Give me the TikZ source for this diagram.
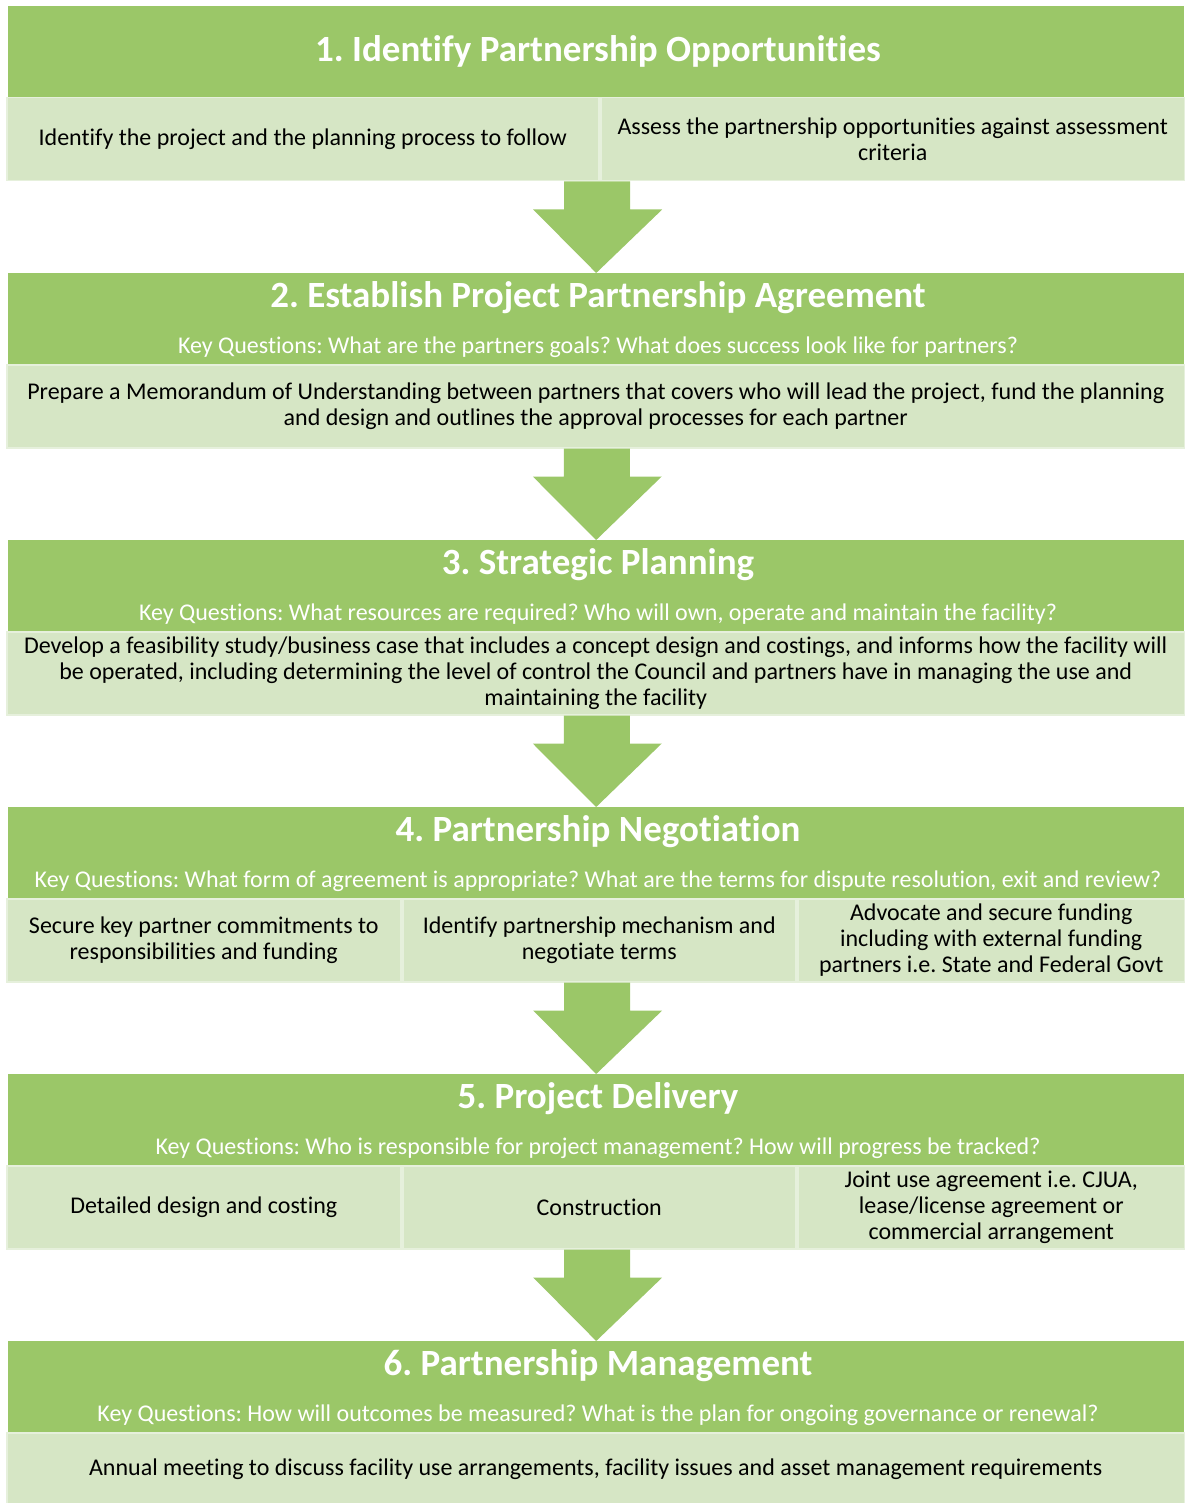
\documentclass[tikz,border=0pt]{standalone}
\usepackage{fontspec}
\setmainfont{Carlito}[Ligatures=NoCommon]
\usetikzlibrary{calc}
\frenchspacing

\definecolor{stepgreen}{HTML}{9BC768}
\definecolor{celllight}{HTML}{D6E6C5}
\definecolor{celledge}{HTML}{E6F0DC}

% block arrow from the bottom of one stage to the top of the next
\newcommand{\stepdown}[2]{%
  \fill[stepgreen] ($(#1)+(-32,0)$) -- ($(#1)+(34,0)$) -- ($(#1)+(34,28)$)
    -- ($(#1)+(66,28)$) -- (#2) -- ($(#1)+(-63,28)$) -- ($(#1)+(-32,28)$) -- cycle;}

\begin{document}
\begin{tikzpicture}[x=1pt,y=-1pt,
    header/.style={fill=stepgreen, minimum width=1176pt, minimum height=91pt,
      anchor=north west, inner sep=0pt},
    title/.style={text=white, font=\fontsize{37}{42}\selectfont\bfseries},
    keyq/.style={text=white, font=\fontsize{24}{26}\selectfont},
    cell/.style={fill=celllight, draw=celledge, line width=1.5pt, anchor=north west,
      align=center, inner sep=0pt, minimum height=83pt, font=\fontsize{24}{26}\selectfont}]
    \useasboundingbox (0,0) rectangle (1184,1503);

    % stage 1
    \node[header] (h1) at (8,6) {};
    \node[title] (t1) at (598,51) {1. Identify Partnership Opportunities};
    \node[cell, minimum width=592pt] (c1a) at (6,97) {Identify the project and the planning process to follow};
    \node[cell, minimum width=584pt] (c1b) at (600,97) {Assess the partnership opportunities against assessment\\criteria};

    % stage 2
    \node[header] (h2) at (8,273) {};
    \node[title] (t2) at (598,298) {2. Establish Project Partnership Agreement};
    \node[keyq] (q2) at (598,347) {Key Questions: What are the partners goals? What does success look like for partners?};
    \node[cell, minimum width=1178pt] (c2) at (6,364) {Prepare a Memorandum of Understanding between partners that covers who will lead the project, fund the planning\\and design and outlines the approval processes for each partner};

    % stage 3
    \node[header] (h3) at (8,540) {};
    \node[title] (t3) at (598,565) {3. Strategic Planning};
    \node[keyq] (q3) at (598,614) {Key Questions: What resources are required? Who will own, operate and maintain the facility?};
    \node[cell, minimum width=1178pt] (c3) at (6,631) {Develop a feasibility study/business case that includes a concept design and costings, and informs how the facility will\\be operated, including determining the level of control the Council and partners have in managing the use and\\maintaining the facility};

    % stage 4
    \node[header] (h4) at (8,807) {};
    \node[title] (t4) at (598,832) {4. Partnership Negotiation};
    \node[keyq] (q4) at (598,881) {Key Questions: What form of agreement is appropriate? What are the terms for dispute resolution, exit and review?};
    \node[cell, minimum width=394pt] (c4a) at (6,898) {Secure key partner commitments to\\responsibilities and funding};
    \node[cell, minimum width=393pt] (c4b) at (402,898) {Identify partnership mechanism and\\negotiate terms};
    \node[cell, minimum width=387pt] (c4c) at (797,898) {Advocate and secure funding\\including with external funding\\partners i.e. State and Federal Govt};

    % stage 5
    \node[header] (h5) at (8,1074) {};
    \node[title] (t5) at (598,1099) {5. Project Delivery};
    \node[keyq] (q5) at (598,1148) {Key Questions: Who is responsible for project management? How will progress be tracked?};
    \node[cell, minimum width=394pt] (c5a) at (6,1165) {Detailed design and costing};
    \node[cell, minimum width=393pt] (c5b) at (402,1165) {Construction};
    \node[cell, minimum width=387pt] (c5c) at (797,1165) {Joint use agreement i.e. CJUA,\\lease/license agreement or\\commercial arrangement};

    % stage 6
    \node[header] (h6) at (8,1341) {};
    \node[title] (t6) at (598,1366) {6. Partnership Management};
    \node[keyq] (q6) at (598,1415) {Key Questions: How will outcomes be measured? What is the plan for ongoing governance or renewal?};
    \node[cell, minimum width=1178pt, minimum height=72pt] (c6) at (6,1432) {Annual meeting to discuss facility use arrangements, facility issues and asset management requirements};

    % arrows between stages
    \coordinate (a1) at (h1.south |- c1a.south);
    \coordinate (a4) at (h4.south |- c4b.south);
    \coordinate (a5) at (h5.south |- c5b.south);
    \stepdown{a1}{h2.north}
    \stepdown{c2.south}{h3.north}
    \stepdown{c3.south}{h4.north}
    \stepdown{a4}{h5.north}
    \stepdown{a5}{h6.north}
\end{tikzpicture}
\end{document}
